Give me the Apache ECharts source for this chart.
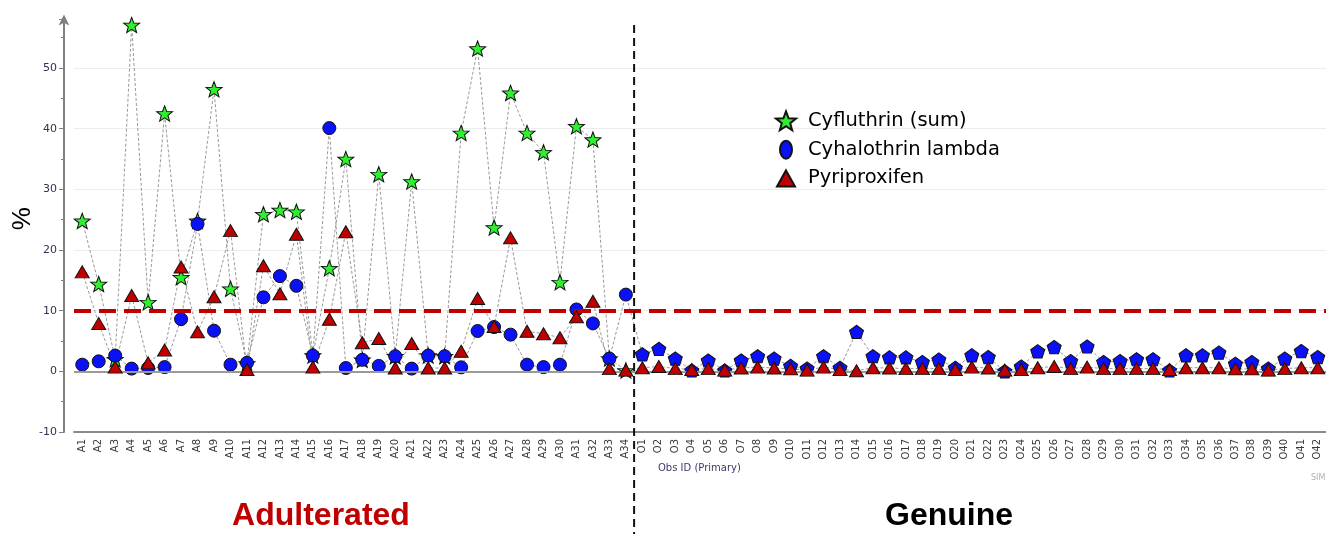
<!DOCTYPE html>
<html><head><meta charset="utf-8">
<script src="https://cdn.jsdelivr.net/npm/echarts@6/dist/echarts.min.js"></script>
<style>html,body{margin:0;padding:0;background:#fff}#c{width:1326px;height:534px}</style>
</head><body><div id="c"></div>
<script>
// ---- data ----
const categories = ['A1','A2','A3','A4','A5','A6','A7','A8','A9','A10','A11','A12','A13','A14','A15','A16','A17','A18','A19','A20','A21','A22','A23','A24','A25','A26','A27','A28','A29','A30','A31','A32','A33','A34',
'O1','O2','O3','O4','O5','O6','O7','O8','O9','O10','O11','O12','O13','O14','O15','O16','O17','O18','O19','O20','O21','O22','O23','O24','O25','O26','O27','O28','O29','O30','O31','O32','O33','O34','O35','O36','O37','O38','O39','O40','O41','O42'];

const cyfluthrin = [24.8,14.4,2.0,57.1,11.4,42.5,15.5,24.8,46.5,13.6,1.3,25.9,26.6,26.3,2.6,17.0,35.0,1.9,32.5,2.5,31.3,2.6,2.5,39.3,53.2,23.7,45.9,39.3,36.1,14.7,40.4,38.2,2.1,0.15,
null,null,null,null,null,null,null,null,null,null,null,null,null,null,null,null,null,null,null,null,null,null,null,null,null,null,null,null,null,null,null,null,null,null,null,null,null,null,null,null,null,null];

const cyhalothrin = [1.1,1.65,2.6,0.45,0.55,0.7,8.6,24.3,6.7,1.1,1.4,12.2,15.7,14.1,2.6,40.1,0.55,1.9,0.9,2.5,0.45,2.6,2.5,0.66,6.65,7.3,6.05,1.1,0.7,1.1,10.2,7.9,2.1,12.65,
2.8,3.7,2.1,0.15,1.8,0.15,1.8,2.5,2.1,0.9,0.45,2.5,0.6,6.5,2.5,2.3,2.3,1.55,1.95,0.6,2.65,2.35,0.0,0.8,3.3,4.0,1.7,4.1,1.55,1.7,2.0,2.0,0.15,2.65,2.65,3.1,1.25,1.55,0.45,2.1,3.35,2.35];

const pyriproxifen = [16.4,7.9,0.7,12.5,1.4,3.5,17.2,6.5,12.3,23.2,0.3,17.4,12.8,22.6,0.7,8.6,23.0,4.7,5.4,0.55,4.6,0.55,0.55,3.3,12.0,7.4,22.0,6.6,6.2,5.55,9.0,11.55,0.45,0.2,
0.6,0.8,0.45,0.3,0.45,0.2,0.55,0.7,0.55,0.4,0.2,0.7,0.3,0.1,0.6,0.55,0.45,0.45,0.45,0.3,0.7,0.55,0.2,0.3,0.6,0.8,0.45,0.7,0.45,0.45,0.45,0.45,0.3,0.6,0.6,0.6,0.4,0.4,0.2,0.45,0.6,0.6];

const seriesNames = ['Cyfluthrin (sum)','Cyhalothrin lambda','Pyriproxifen'];
const yMin = -10, yMax = 58, yInterval = 10;
const limitValue = 10;
const groupLabels = ['Adulterated','Genuine'];
const xAxisTitle = 'Obs ID (Primary)';

// ---- styles ----
const STAR = 'path://M0,-10L2.469,-3.398L9.511,-3.09L3.994,1.298L5.878,8.09L0,4.2L-5.878,8.09L-3.994,1.298L-9.511,-3.09L-2.469,-3.398Z';
const PENTA = 'path://M0,-10L9.511,-3.09L5.878,8.09L-5.878,8.09L-9.511,-3.09Z';
const LEG_STAR = 'path://M0,0M28,20M11,0.3L13.59,7.23L20.99,7.56L15.19,12.16L17.17,19.29L11,15.21L4.83,19.29L6.81,12.16L1.01,7.56L8.41,7.23Z';
const LEG_ELL = 'path://M0,0M28,20M5,10A6,9,0,1,1,17,10A6,9,0,1,1,5,10Z';
const LEG_TRI = 'path://M0,0M28,20M11,2L20,18L2,18Z';
const lineStyle = {color:'#999999', width:1, type:[3,2]};
const colors = ['#2ef02e','#0a10f8','#c00000'];

const chart = echarts.init(document.getElementById('c'), null, {renderer:'canvas'});

const lineSeries = [cyfluthrin, cyhalothrin, pyriproxifen].map((d,i)=>({
  name: 'line'+i, type:'line', data:d, symbol:'none', showSymbol:false, silent:true,
  lineStyle: lineStyle, z:2, connectNulls:false, animation:false
}));

const halData = cyhalothrin.map((v,i)=> categories[i].charAt(0)==='O' ? {value:v, symbol:PENTA, symbolSize:[14,13.3]} : v);

const scatterSeries = [
  {name:seriesNames[0], type:'scatter', data:cyfluthrin, symbol:STAR, symbolSize:[16,15.2], z:3,
   itemStyle:{color:colors[0], borderColor:'#111', borderWidth:1, opacity:1}},
  {name:seriesNames[1], type:'scatter', data:halData, symbol:'circle', symbolSize:13, z:4,
   itemStyle:{color:colors[1], borderColor:'#111', borderWidth:1, opacity:1}},
  {name:seriesNames[2], type:'scatter', data:pyriproxifen, symbol:'triangle', symbolSize:[14,12], z:5,
   itemStyle:{color:colors[2], borderColor:'#111', borderWidth:1, opacity:1}}
];

const refSeries = {
  name:'ref', type:'line', data:[], z:1, silent:true, animation:false,
  markLine:{symbol:'none', silent:true, label:{show:false}, animation:false,
    data:[
      {yAxis:0, lineStyle:{color:'#9a9a9a', width:2, type:'solid'}},
      {yAxis:limitValue, lineStyle:{color:'#c00000', width:4, type:[17,8]}}
    ]}
};

chart.setOption({
  animation:false,
  backgroundColor:'#fff',
  grid:{left:74, right:0, top:19.5, bottom:102, containLabel:false, outerBoundsMode:'none'},
  legend:{
    data:[{name:seriesNames[0], icon:LEG_STAR},{name:seriesNames[1], icon:LEG_ELL},{name:seriesNames[2], icon:LEG_TRI}],
    orient:'vertical', left:774, top:110, padding:0, itemWidth:28, itemHeight:20, itemGap:6.7,
    textStyle:{fontFamily:'DejaVu Sans', fontSize:19.5, lineHeight:20, color:'#000'}, selectedMode:false
  },
  xAxis:{
    type:'category', data:categories, boundaryGap:true,
    axisLine:{onZero:false, lineStyle:{color:'#8a8a8a', width:2}},
    axisTick:{show:false},
    axisLabel:{interval:0, rotate:90, fontSize:10, color:'#3a3a3a', fontFamily:'DejaVu Sans', margin:7},
    splitLine:{show:false}
  },
  yAxis:{
    type:'value', min:yMin, max:yMax, interval:yInterval, offset:10,
    name:'%', nameLocation:'middle', nameRotate:90, nameGap:28, nameMoveOverlap:false,
    nameTextStyle:{fontSize:26, color:'#000', fontFamily:'Liberation Sans', padding:[0,0,0,14]},
    axisLine:{show:true, lineStyle:{color:'#808080', width:2}, symbol:['none','arrow'], symbolSize:[8,11], symbolOffset:[0,5]},
    axisTick:{show:true, length:5, lineStyle:{color:'#808080'}},
    minorTick:{show:true, splitNumber:2, length:3, lineStyle:{color:'#808080'}},
    axisLabel:{fontSize:11, color:'#2d3450', fontFamily:'DejaVu Sans', margin:7, showMaxLabel:false},
    splitLine:{show:true, showMaxLine:false, lineStyle:{color:'#ececec', width:1}}
  },
  series:[refSeries, ...lineSeries, ...scatterSeries]
});

// divider between the two groups, placed through the category scale
const xa = chart.convertToPixel({xAxisIndex:0}, 'A34');
const xb = chart.convertToPixel({xAxisIndex:0}, 'O1');
const xDiv = (xa + xb) / 2;
chart.setOption({
  graphic:[
    {type:'line', shape:{x1:xDiv, y1:25, x2:xDiv, y2:534}, style:{stroke:'#111', lineWidth:2, lineDash:[8,5]}, z:10, silent:true},
    {type:'text', x:321, y:516, style:{text:groupLabels[0], font:'bold 32px "Liberation Sans"', fill:'#c00000', align:'center', verticalAlign:'middle'}},
    {type:'text', x:949, y:516, style:{text:groupLabels[1], font:'bold 32px "Liberation Sans"', fill:'#000', align:'center', verticalAlign:'middle'}},
    {type:'text', x:658, y:468, style:{text:xAxisTitle, font:'10px "DejaVu Sans"', fill:'#3b3b6b', align:'left', verticalAlign:'middle'}},
    {type:'text', x:1311, y:478, style:{text:'SIM', font:'8px "DejaVu Sans"', fill:'#b0b0b0', align:'left', verticalAlign:'middle'}}
  ]
});
</script>
</body></html>
